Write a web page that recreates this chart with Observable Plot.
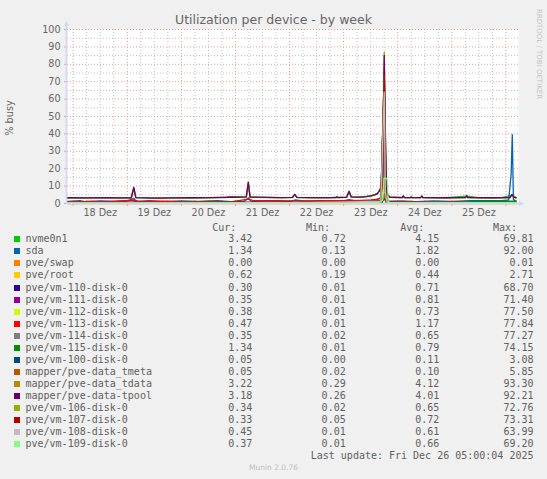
<!DOCTYPE html>
<html>
<head>
<meta charset="utf-8">
<script src="https://cdn.jsdelivr.net/npm/d3@7"></script>
<script src="https://cdn.jsdelivr.net/npm/@observablehq/plot@0.6"></script>
<style>
  html, body { margin: 0; padding: 0; background: #f0f0f0; overflow: hidden; }
  #wrap { position: relative; width: 547px; height: 479px; background: #f0f0f0; overflow: hidden; font-family: "DejaVu Sans", sans-serif; color: #666; }
  #chart { position: absolute; left: 0; top: 0; }
  .abs { position: absolute; white-space: pre; }
  .title { left: 0; width: 547px; top: 12.2px; text-align: center; font-size: 12.5px; line-height: 15px; color: #666; }
  .ylab { width: 100px; left: -40.4px; top: 112px; text-align: center; font-size: 9.7px; line-height: 12px; transform: rotate(-90deg); transform-origin: 50% 50%; color: #666; }
  .wm { width: 120px; left: 478.5px; top: 48px; text-align: center; font-size: 7px; line-height: 12px; transform: rotate(90deg); transform-origin: 50% 50%; color: #c4c4c4; }
  .leg { font-family: "DejaVu Sans Mono", monospace; font-size: 10px; line-height: 12px; height: 12px; color: #606060; }
  .box { position: absolute; width: 6px; height: 6px; }
  .munin { left: 0; width: 547px; text-align: center; font-size: 7.5px; line-height: 10px; color: #bdbdbd; }
</style>
</head>
<body>
<div id="wrap">
  <div id="chart"></div>
  <div class="abs title">Utilization per device - by week</div>
  <div class="abs ylab">% busy</div>
  <div class="abs wm">RRDTOOL / TOBI OETIKER</div>
  <div id="legend"></div>
</div>
<script>
// ---- legend / series metadata ----
const names = ["nvme0n1","sda","pve/swap","pve/root","pve/vm-110-disk-0","pve/vm-111-disk-0","pve/vm-112-disk-0","pve/vm-113-disk-0","pve/vm-114-disk-0","pve/vm-115-disk-0","pve/vm-100-disk-0","mapper/pve-data_tmeta","mapper/pve-data_tdata","mapper/pve-data-tpool","pve/vm-106-disk-0","pve/vm-107-disk-0","pve/vm-108-disk-0","pve/vm-109-disk-0"];
const colors = ["#00CC00","#0066B3","#FF8000","#FFCC00","#330099","#990099","#CCFF00","#FF0000","#808080","#008F00","#00487D","#B35A00","#B38F00","#6B006B","#8FB300","#B30000","#BEBEBE","#80FF80"];
const curVals = [3.42,1.34,0.00,0.62,0.30,0.35,0.38,0.47,0.35,1.34,0.05,0.05,3.22,3.18,0.34,0.33,0.45,0.37];
const minVals = [0.72,0.13,0.00,0.19,0.01,0.01,0.01,0.01,0.02,0.01,0.00,0.02,0.29,0.26,0.02,0.05,0.01,0.01];
const avgVals = [4.15,1.82,0.00,0.44,0.71,0.81,0.73,1.17,0.65,0.79,0.11,0.10,4.12,4.01,0.65,0.72,0.61,0.66];
const maxVals = [69.81,92.00,0.01,2.71,68.70,71.40,77.50,77.84,77.27,74.15,3.08,5.85,93.30,92.21,72.76,73.31,63.99,69.20];
const lastUpdate = "Last update: Fri Dec 26 05:00:04 2025";
const version = "Munin 2.0.76";

// ---- axis labels ----
const dayLabels = ["18 Dez","19 Dez","20 Dez","21 Dez","22 Dez","23 Dez","24 Dez","25 Dez"];
const yTicks = [0,10,20,30,40,50,60,70,80,90,100];

// ---- series: [hours since 18 Dez 00:00, % busy] ----
const nvme0n1 = [[-2.5,3.3],[4,3.3],[10,3.4],[20,3.3],[25.8,3.3],[26.9,8.5],[27.8,3.4],[40,3.2],[55,3.3],[68,3.4],[69,4.0],[74,4.0],[75,3.5],[76.8,3.6],[77.7,11],[78.5,3.6],[90,3.4],[97.3,3.4],[98.3,5.0],[99.3,3.4],[110,3.3],[116.5,3.4],[117,4.0],[117.5,3.4],[121.3,3.5],[122.4,6.5],[123.4,3.6],[127.6,3.7],[132.1,4.3],[135,5.5],[136.5,9],[137,12],[137.5,20],[138,69.8],[138.5,30],[139,8],[139.5,4.5],[140.5,3.6],[149.5,3.4],[150,4.2],[150.5,3.4],[154.2,3.4],[154.7,4.4],[155.2,3.4],[165,3.3],[174.6,4.2],[180,3.3],[190,3.4],[194.7,4.8],[196.5,3.4]];
const sda = [[-2.5,1.2],[3,1.6],[5,1.1],[12,1.5],[18,1.0],[24,1.4],[26.9,3.0],[28,1.2],[34,1.7],[40,1.1],[48,1.5],[56,1.2],[64,1.6],[70,1.1],[76,1.3],[77.7,3.2],[79,1.2],[88,1.5],[96,1.1],[98.3,2.0],[104,1.2],[112,1.5],[118,1.1],[122.4,2.2],[126,1.3],[132,1.5],[136.5,3.0],[137.5,14],[138,60],[138.5,14],[139,2.5],[140,1.3],[146,1.5],[152,1.1],[160,1.5],[168,1.2],[176,1.6],[184,1.7],[190,1.7],[193.2,2.0],[194.3,17],[194.8,39.6],[195.3,2.2],[196.5,1.4]];
const swap = [[-2.5,0],[196.5,0]];
const root = [[-2.5,0.5],[30,0.4],[60,0.5],[90,0.4],[120,0.5],[136.5,0.8],[138,2.7],[139,0.6],[170,0.5],[196.5,0.6]];
const vm110 = [[-2.5,0.5],[40,0.6],[80,0.5],[120,0.6],[136.5,1.5],[138,68.7],[138.5,6],[139.3,0.8],[160,0.4],[196.5,0.3]];
const vm111 = [[-2.5,0.6],[26.9,1.6],[28,0.6],[60,0.7],[100,0.6],[136.5,1.6],[138,71.4],[138.5,7],[139.3,0.9],[170,0.4],[196.5,0.35]];
const vm112 = [[-2.5,0.4],[50,0.5],[100,0.4],[136.5,1.4],[138,77.5],[138.5,8],[139.3,0.7],[170,0.4],[196.5,0.4]];
const vm113 = [[-2.5,0.9],[8,1.2],[16,0.8],[26.9,2.0],[30,1.0],[40,1.3],[50,0.9],[60,1.2],[70,0.9],[77.7,2.5],[80,1.6],[90,1.7],[100,1.5],[110,1.7],[120,1.6],[128,1.8],[132,2.0],[135,2.3],[136.5,3.4],[137.2,9],[138,77],[138.6,12],[139.2,3],[140,1.2],[150,0.9],[160,0.8],[170,1.0],[180,0.7],[190,0.6],[196.5,0.5]];
const vm114 = [[-2.5,0.4],[50,0.5],[100,0.4],[136.5,1.5],[138,77.3],[138.5,9],[139.3,0.7],[170,0.4],[196.5,0.35]];
const vm115 = [[-2.5,0.6],[20,0.7],[40,0.5],[60,0.8],[80,0.6],[100,0.7],[120,0.6],[134,1.0],[136.5,2],[138,74],[138.6,10],[139.3,1.5],[140.5,0.8],[160,0.7],[175,0.9],[178,1.2],[196.5,1.3]];
const vm100 = [[-2.5,0.1],[60,0.1],[120,0.1],[137,0.5],[138,3.1],[139,0.2],[196.5,0.05]];
const tmeta = [[-2.5,0.1],[60,0.1],[120,0.1],[137,1.0],[138,5.85],[139,0.3],[196.5,0.05]];
const tdata = [[-2.5,3.2],[6,3.2],[14,3.3],[22,3.2],[25.8,3.3],[26.9,9.4],[27.8,3.4],[36,3.1],[44,3.2],[52,3.3],[60,3.4],[66,3.5],[72,3.6],[76.8,3.8],[77.7,12.4],[78.5,3.7],[86,3.5],[92,3.4],[97.3,3.5],[98.3,5.3],[99.3,3.5],[106,3.4],[114,3.4],[121.3,3.6],[122.4,7.1],[123.4,3.8],[127.6,3.7],[130,4.0],[132.1,4.4],[134,5.1],[135,5.8],[136,7.4],[136.5,9.4],[137,15],[137.5,33],[138,87],[138.5,40],[139,9],[139.5,5],[140.5,3.6],[146,3.4],[146.4,4.3],[147,3.4],[154.2,3.4],[154.7,4.1],[155.2,3.4],[166,3.3],[174.1,3.4],[174.6,4.4],[175.1,3.4],[186,3.3],[193.8,3.4],[194.7,5.1],[195.4,3.6],[196.5,3.2]];
const tpool = [[-2.5,3.3],[6,3.2],[14,3.3],[22,3.2],[25.8,3.3],[26.9,9.2],[27.8,3.4],[36,3.1],[44,3.2],[52,3.3],[60,3.4],[66,3.5],[72,3.6],[76.8,3.8],[77.7,12.2],[78.5,3.7],[86,3.5],[92,3.4],[97.3,3.5],[98.3,5.2],[99.3,3.5],[106,3.4],[114,3.4],[121.3,3.6],[122.4,7.0],[123.4,3.8],[127.6,3.7],[130,4.0],[132.1,4.4],[134,5.1],[135,5.8],[136,7.5],[136.5,9.5],[137,15],[137.5,34],[138,85],[138.5,42],[139,9],[139.5,5],[140.5,3.6],[146,3.4],[146.4,4.4],[147,3.4],[154.2,3.4],[154.7,4.2],[155.2,3.4],[166,3.3],[174.1,3.4],[174.6,4.5],[175.1,3.4],[186,3.3],[193.8,3.4],[194.7,5.2],[195.4,3.6],[196.5,3.2]];
const vm106 = [[-2.5,0.4],[50,0.5],[100,0.4],[136.5,1.3],[138,72.8],[138.5,7],[139.3,0.6],[170,0.4],[196.5,0.34]];
const vm107 = [[-2.5,0.5],[50,0.5],[100,0.6],[136.5,1.4],[138,73.3],[138.5,8],[139.3,0.7],[170,0.4],[196.5,0.33]];
const vm108 = [[-2.5,0.4],[50,0.4],[100,0.5],[136.5,1.2],[138,64],[138.5,6],[139.3,0.6],[170,0.5],[196.5,0.45]];
const vm109 = [[-2.5,0.4],[30,0.3],[60,0.4],[90,0.35],[120,0.4],[136,0.6],[137.3,2],[137.9,14.5],[138.6,14.5],[139.3,14],[139.8,1],[141,0.4],[170,0.4],[196.5,0.4]];

const seriesPts = [nvme0n1, sda, swap, root, vm110, vm111, vm112, vm113, vm114, vm115, vm100, tmeta, tdata, tpool, vm106, vm107, vm108, vm109];
const rows = seriesPts.flatMap((pts, i) => pts.map(([h, v]) => ({name: names[i], h, v})));

// time grid (hours since 18 Dez 00:00), window ends at last update 26 Dez ~05:00
const xDomain = [-2.5, 197.56];
const majorX = d3.range(0, 193, 24);
const minorX = d3.range(6, 197, 6).filter(h => h % 24 !== 0);
const noonX = d3.range(12, 181, 24);
const minorY = d3.range(5, 100, 10);

const gridGray = "#c2c2c2";
const gridRed = "#ec9a9a";
const axisCol = "#CFD6F8";

const chart = Plot.plot({
  width: 547, height: 220,
  marginLeft: 67, marginRight: 29, marginTop: 29, marginBottom: 17,
  style: {background: "transparent", fontFamily: "'DejaVu Sans', sans-serif", fontSize: "9.6px", color: "#666", overflow: "visible"},
  x: {type: "linear", domain: xDomain, label: null},
  y: {domain: [0, 100], label: null},
  color: {domain: names, range: colors},
  marks: [
    Plot.frame({fill: "#ffffff", stroke: "none"}),
    Plot.ruleX(minorX, {stroke: gridGray, strokeDasharray: "1,2"}),
    Plot.ruleY(minorY, {stroke: gridGray, strokeDasharray: "1,2"}),
    Plot.ruleX(majorX, {stroke: gridRed, strokeDasharray: "1,2"}),
    Plot.ruleY(yTicks.filter(v => v > 0), {stroke: gridRed, strokeDasharray: "1,2"}),
    Plot.line(rows, {x: "h", y: "v", z: "name", stroke: "name", strokeWidth: 1.3}),
    Plot.axisX(majorX, {tickSize: 3, tickFormat: () => "", stroke: gridRed, label: null}),
    Plot.axisX(noonX, {tickSize: 0, tickPadding: 6, tickFormat: d => dayLabels[noonX.indexOf(d)], color: "#666", label: null}),
    Plot.axisY(yTicks, {tickSize: 3, tickFormat: () => "", stroke: gridRed, label: null}),
    Plot.axisY(yTicks, {tickSize: 0, tickPadding: 7, color: "#666", label: null})
  ]
});
document.getElementById("chart").appendChild(chart);

// axis lines and arrows, placed with the plot's scales
const xs = chart.scale("x"), ys = chart.scale("y");
const L = xs.apply(xDomain[0]), R = xs.apply(xDomain[1]);
const B = ys.apply(0), T = ys.apply(100);
const svg = d3.select(chart);
svg.append("line").attr("x1", L - 0.5).attr("x2", L - 0.5).attr("y1", B).attr("y2", T - 4)
  .attr("stroke", axisCol).attr("stroke-width", 1.5);
svg.append("line").attr("x1", L - 1).attr("x2", R + 2).attr("y1", B + 0.5).attr("y2", B + 0.5)
  .attr("stroke", axisCol).attr("stroke-width", 1.5);
svg.append("path").attr("d", `M${L-3},${T-3}L${L+2},${T-3}L${L-0.5},${T-8}Z`).attr("fill", axisCol);
svg.append("path").attr("d", `M${R+1},${B-2}L${R+1},${B+3}L${R+6},${B+0.5}Z`).attr("fill", axisCol);

// ---- legend ----
const leg = document.getElementById("legend");
function txt(s, yc, opts) {
  const d = document.createElement("div");
  d.className = "abs leg";
  d.textContent = s;
  d.style.top = (yc - 6) + "px";
  if (opts.left != null) d.style.left = opts.left + "px";
  if (opts.right != null) { d.style.right = (547 - opts.right) + "px"; d.style.textAlign = "right"; }
  leg.appendChild(d);
  return d;
}
const colRight = [252.4, 345.7, 439.4, 533.5];
const headRight = [236.3, 330, 424.3, 517];
const heads = ["Cur:", "Min:", "Avg:", "Max:"];
const headY = 228.3;
heads.forEach((h, j) => txt(h, headY, {right: headRight[j]}));
const row0 = 239.3, rowStep = 12.05;
names.forEach((n, i) => {
  const yc = row0 + i * rowStep;
  const b = document.createElement("div");
  b.className = "box";
  b.style.left = "14px";
  b.style.top = (yc - 3) + "px";
  b.style.background = colors[i];
  leg.appendChild(b);
  txt(n, yc, {left: 25.5});
  [curVals[i], minVals[i], avgVals[i], maxVals[i]].forEach((v, j) => txt(v.toFixed(2), yc, {right: colRight[j]}));
});
txt(lastUpdate, 455.7, {right: 533.5});
const m = document.createElement("div");
m.className = "abs munin";
m.textContent = version;
m.style.top = (468 - 5) + "px";
document.getElementById("wrap").appendChild(m);
</script>
</body>
</html>
